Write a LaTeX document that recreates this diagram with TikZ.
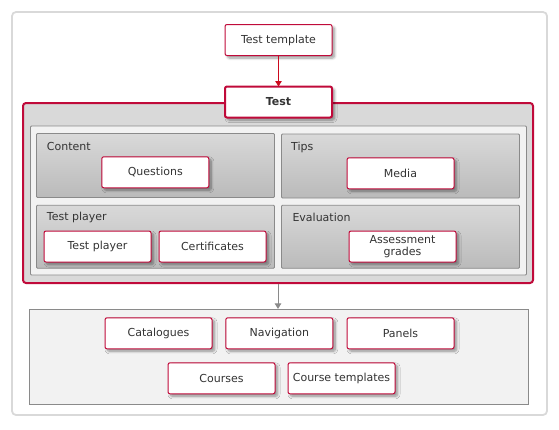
\documentclass[tikz,border=0pt]{standalone}
\usepackage{fontspec}
\setmainfont{DejaVu Sans}
\usetikzlibrary{arrows.meta,shadows.blur}
\definecolor{crim}{HTML}{C00A3A}
\definecolor{redarr}{HTML}{CC0A1E}
\definecolor{txt}{HTML}{333333}
\definecolor{frame}{HTML}{D9D9D9}
\definecolor{panelborder}{HTML}{8A8A8A}
\tikzset{
  box/.style={draw=crim, fill=white, line width=1pt, rounded corners=2pt,
    minimum width=107pt, minimum height=31pt, inner sep=1pt, outer sep=0pt,
    text=txt, font=\fontsize{11}{12}\selectfont, align=center,
    blur shadow={shadow xshift=2.5pt, shadow yshift=-2.5pt, shadow blur steps=8, shadow blur radius=2.5pt, shadow opacity=40}},
  boldbox/.style={box, line width=2pt, font=\fontsize{11}{12}\selectfont\bfseries},
  panel/.style={draw=panelborder, line width=0.8pt, top color=white!85!black, bottom color=white!73!black,
    rounded corners=1pt, inner sep=0pt, outer sep=0pt},
  ptitle/.style={anchor=west, text=txt, font=\fontsize{11}{12}\selectfont, inner sep=0pt},
}
\begin{document}
\begin{tikzpicture}[x=1pt,y=-1pt]
\useasboundingbox (0,0) rectangle (559,429);
% outer frame
\node[draw=frame, line width=1.8pt, rounded corners=4pt, minimum width=535pt, minimum height=403pt, inner sep=0pt] (outer) at (279.5,213.5) {};
% red container
\node[draw=crim, fill=white!85!black, line width=2pt, rounded corners=3pt, minimum width=510pt, minimum height=180pt, inner sep=0pt] (testc) at (278,193) {};
% inner light panel
\node[draw=panelborder, fill=white!95!black, line width=0.8pt, rounded corners=1pt, minimum width=496pt, minimum height=149pt, inner sep=0pt] (inner) at (278.5,200.5) {};
% four panels
\node[panel, minimum width=238pt, minimum height=64pt] (pcontent) at (155.5,165.5) {};
\node[panel, minimum width=238pt, minimum height=64pt] (ptips) at (400.5,166) {};
\node[panel, minimum width=238pt, minimum height=63pt] (pplayer) at (155.5,236.8) {};
\node[panel, minimum width=238pt, minimum height=63pt] (peval) at (400.5,236.8) {};
\node[ptitle] (tcontent) at (46.7,146) {Content};
\node[ptitle] (ttips) at (291,147) {Tips};
\node[ptitle] (tplayer) at (46.7,217) {Test player};
\node[ptitle] (teval) at (292.3,217) {Evaluation};
\node[box] (questions) at (155.3,172.3) {Questions};
\node[box] (media) at (400.5,173.3) {Media};
\node[box] (player) at (97.5,246.5) {Test player};
\node[box] (certs) at (212.5,246.5) {Certificates};
\node[box] (grades) at (402.5,246.5) {Assessment\\grades};
% top boxes
\node[box] (tt) at (278.5,40) {Test template};
\node[boldbox] (test) at (278.5,102) {Test};
\draw[redarr, line width=0.9pt, -{Triangle[width=6.5pt,length=5.5pt]}] (tt.south) -- (test.north);
% bottom panel
\node[draw=panelborder, fill=white!95!black, line width=0.8pt, minimum width=499pt, minimum height=95pt, inner sep=0pt] (bottom) at (279,356.8) {};
\draw[panelborder, line width=0.9pt, -{Triangle[width=6.5pt,length=5.5pt]}] (testc.south) -- (testc.south |- bottom.north);
\node[box] (catalogues) at (158.5,333.3) {Catalogues};
\node[box] (navigation) at (279.3,333.3) {Navigation};
\node[box] (panels) at (400.5,333.3) {Panels};
\node[box] (courses) at (221.5,378.3) {Courses};
\node[box] (ctemplates) at (341.5,378.3) {Course templates};
\end{tikzpicture}
\end{document}
